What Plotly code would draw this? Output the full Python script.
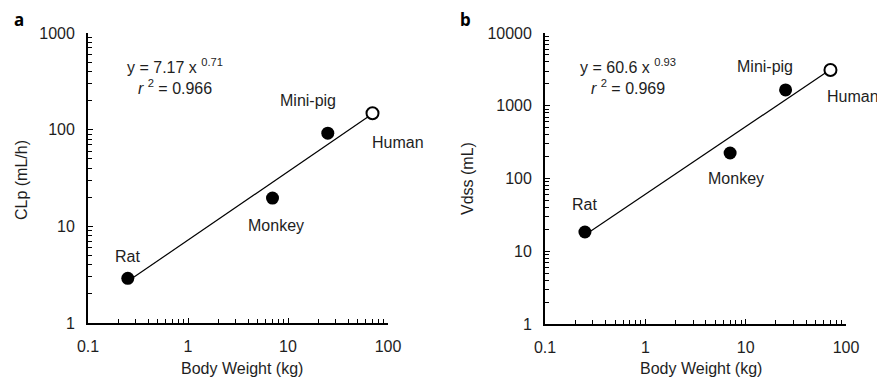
import math
import plotly.graph_objects as go

# ---- data ----
species = ["Rat", "Monkey", "Mini-pig", "Human"]
body_weight = [0.25, 7.0, 25.0, 70.0]
clp = [2.9, 19.6, 92.0, 148.0]
vdss = [18.4, 224.0, 1650.0, 3100.0]
fit_x = [0.25, 70.0]
fit_clp = [2.7, 146.0]
fit_vdss = [16.7, 3150.0]
x_tickvals = [0.1, 1, 10, 100]
x_ticktext = ["0.1", "1", "10", "100"]
ya_tickvals = [1, 10, 100, 1000]
ya_ticktext = ["1", "10", "100", "1000"]
yb_tickvals = [1, 10, 100, 1000, 10000]
yb_ticktext = ["1", "10", "100", "1000", "10000"]

FONT = "Liberation Sans, Arial, sans-serif"
TXT = "#1e1e1e"

# the page body has an 8px margin; size the figure so that it fits the window
OFF = 8
W, H = 885 - OFF, 380 - OFF

def px(x):
    return (x - OFF) / W

def py(y):
    return 1 - (y - OFF) / H

fig = go.Figure()

def add_panel(xa, ya, yvals, fity):
    fig.add_trace(go.Scatter(x=fit_x, y=fity, mode="lines",
                             line=dict(color="black", width=1.2),
                             xaxis=xa, yaxis=ya, showlegend=False, hoverinfo="skip"))
    fig.add_trace(go.Scatter(x=body_weight[:3], y=yvals[:3], mode="markers",
                             marker=dict(size=13, color="black", line=dict(width=0)),
                             xaxis=xa, yaxis=ya, showlegend=False))
    fig.add_trace(go.Scatter(x=body_weight[3:], y=yvals[3:], mode="markers",
                             marker=dict(size=12, color="white", line=dict(width=2, color="black")),
                             xaxis=xa, yaxis=ya, showlegend=False))

add_panel("x", "y", clp, fit_clp)
add_panel("x2", "y2", vdss, fit_vdss)

axis_common = dict(
    type="log", showgrid=False, zeroline=False, showline=True, automargin=False,
    linecolor="black", linewidth=1.8, ticks="inside", ticklen=5, tickwidth=1.3,
    tickcolor="black", tickfont=dict(family=FONT, size=16, color=TXT),
    minor=dict(ticks="inside", ticklen=4, tickwidth=1.1, tickcolor="black",
               dtick="D1", showgrid=False),
    tickmode="array", ticklabelstandoff=8,
)

fig.update_layout(
    width=W, height=H, margin=dict(l=0, r=0, t=0, b=0, autoexpand=False),
    paper_bgcolor="white", plot_bgcolor="white",
    font=dict(family=FONT, size=16, color=TXT),
    xaxis=dict(axis_common, domain=[px(88), px(388)], range=[-1, 2],
               tickvals=x_tickvals, ticktext=x_ticktext, anchor="y"),
    yaxis=dict(axis_common, domain=[py(323), py(33)], range=[0, 3],
               tickvals=ya_tickvals, ticktext=ya_ticktext, anchor="x"),
    xaxis2=dict(axis_common, domain=[px(545), px(846)], range=[-1, 2],
                tickvals=x_tickvals, ticktext=x_ticktext, anchor="y2"),
    yaxis2=dict(axis_common, domain=[py(324), py(33)], range=[0, 4],
                tickvals=yb_tickvals, ticktext=yb_ticktext, anchor="x2"),
)

# point labels (offsets in pixels); annotations on log axes take log10 coordinates
offs_a = [(0, 22), (3, -27), (-20, 33), (25, -29)]
offs_b = [(0, 27), (6, -25), (-21, 23), (23, -27)]
for (xa, ya, yvals, offs) in [("x", "y", clp, offs_a), ("x2", "y2", vdss, offs_b)]:
    for name, bx, by, (dx, dy) in zip(species, body_weight, yvals, offs):
        fig.add_annotation(x=math.log10(bx), y=math.log10(by), xref=xa, yref=ya,
                           xanchor="center", yanchor="middle", borderpad=0,
                           text=name, showarrow=False, xshift=dx, yshift=dy,
                           font=dict(family=FONT, size=16, color=TXT))

def note(cx, cy, text, **kw):
    fig.add_annotation(x=px(cx), y=py(cy), xref="paper", yref="paper", showarrow=False,
                       xanchor="center", yanchor="middle", borderpad=0, text=text, **kw)

# equations
note(175, 76, "y = 7.17 x <sup>0.71</sup><br><i>r</i> <sup>2</sup> = 0.966",
     align="center", font=dict(family=FONT, size=16, color=TXT))
note(628, 76, "y = 60.6 x <sup>0.93</sup><br><i>r</i> <sup>2</sup> = 0.969",
     align="center", font=dict(family=FONT, size=16, color=TXT))

# axis titles
for cx, cy, txt in [(242, 368, "Body Weight (kg)"), (701, 368, "Body Weight (kg)")]:
    note(cx, cy, txt, font=dict(family=FONT, size=16, color=TXT))
for cx, cy, txt in [(21, 180, "CLp (mL/h)"), (467, 178, "Vdss (mL)")]:
    note(cx, cy, txt, textangle=-90, font=dict(family=FONT, size=16, color=TXT))

# panel letters
for cx, cy, txt in [(19, 20, "a"), (465, 20, "b")]:
    note(cx, cy, "<b>%s</b>" % txt, font=dict(family="Noto Sans, sans-serif", size=17, color="black"))

fig.write_html("out.html")
